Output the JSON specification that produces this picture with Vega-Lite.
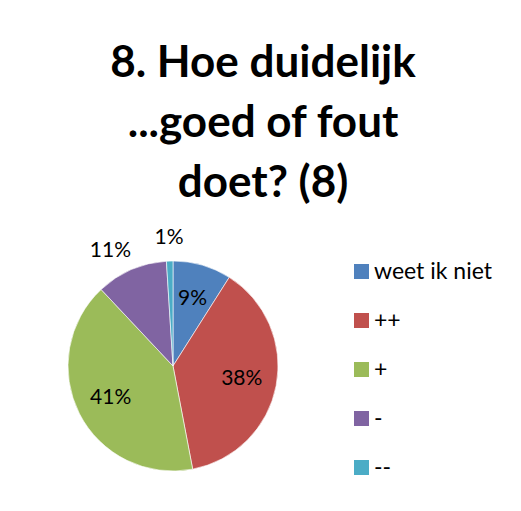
{
  "$schema": "https://vega.github.io/schema/vega-lite/v6.json",
  "width": 212,
  "height": 212,
  "autosize": {"type": "none"},
  "padding": {"left": 67, "top": 260, "right": 242, "bottom": 39},
  "background": "white",
  "config": {"view": {"stroke": null}},
  "title": {
    "text": ["8. Hoe duidelijk", "...goed of fout", "doet? (8)"],
    "font": "Lato",
    "fontSize": 44,
    "fontWeight": "bold",
    "color": "#000000",
    "anchor": "middle",
    "lineHeight": 60,
    "offset": 19,
    "dx": 90
  },
  "data": {
    "values": [
      {"categorie": "weet ik niet", "aandeel": 0.09, "volgorde": 1},
      {"categorie": "++", "aandeel": 0.38, "volgorde": 2},
      {"categorie": "+", "aandeel": 0.41, "volgorde": 3},
      {"categorie": "-", "aandeel": 0.11, "volgorde": 4},
      {"categorie": "--", "aandeel": 0.01, "volgorde": 5}
    ]
  },
  "encoding": {
    "theta": {"field": "aandeel", "type": "quantitative", "stack": true},
    "order": {"field": "volgorde", "type": "quantitative"},
    "detail": {"field": "categorie", "type": "nominal"}
  },
  "layer": [
    {
      "mark": {"type": "arc", "outerRadius": 105, "stroke": "#ffffff", "strokeWidth": 0.6},
      "encoding": {
        "color": {
          "field": "categorie",
          "type": "nominal",
          "sort": ["weet ik niet", "++", "+", "-", "--"],
          "scale": {
            "domain": ["weet ik niet", "++", "+", "-", "--"],
            "range": ["#4F81BD", "#C0504D", "#9BBB59", "#8064A2", "#4BACC6"]
          },
          "legend": {
            "title": null,
            "orient": "none",
            "legendX": 283,
            "legendY": 0,
            "symbolType": "square",
            "symbolSize": 225,
            "symbolStrokeWidth": 0,
            "labelFont": "Lato",
            "labelFontSize": 23,
            "labelColor": "#000000",
            "labelOffset": 1,
            "rowPadding": 25,
            "encode": {
              "labels": {
                "update": {
                  "dx": {"signal": "datum.label == 'weet ik niet' ? 0 : 10"}
                }
              }
            }
          }
        }
      }
    },
    {
      "mark": {"type": "text", "font": "Lato", "fontSize": 21, "fill": "#000000", "radius": 70},
      "encoding": {
        "text": {
          "condition": {"test": "datum.aandeel > 0.05 && datum.categorie != '-'", "field": "aandeel", "type": "quantitative", "format": ".0%"},
          "value": ""
        }
      }
    },
    {
      "mark": {"type": "text", "font": "Lato", "fontSize": 21, "fill": "#000000", "radius": 131, "thetaOffset": -0.09},
      "encoding": {
        "text": {
          "condition": {"test": "datum.categorie == '-'", "field": "aandeel", "type": "quantitative", "format": ".0%"},
          "value": ""
        }
      }
    },
    {
      "mark": {"type": "text", "font": "Lato", "fontSize": 21, "fill": "#000000", "radius": 128},
      "encoding": {
        "text": {
          "condition": {"test": "datum.categorie == '--'", "field": "aandeel", "type": "quantitative", "format": ".0%"},
          "value": ""
        }
      }
    }
  ]
}
